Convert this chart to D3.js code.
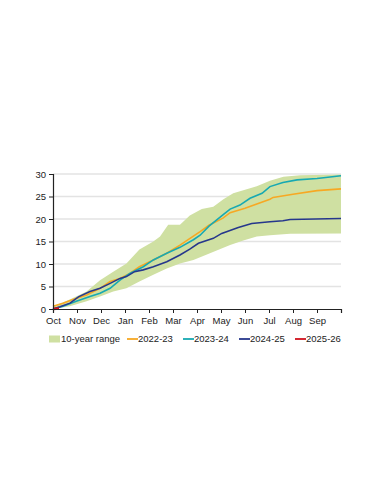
<!DOCTYPE html>
<html>
<head>
<meta charset="utf-8">
<script src="https://cdn.jsdelivr.net/npm/d3@7"></script>
<style>
  body { margin: 0; background: #fff; }
  svg text { font-family: "Liberation Sans", Arial, sans-serif; fill: #222; }
</style>
</head>
<body>
<div id="chart"></div>
<script>
// months since 1 Oct -> cumulative value
const monthLabels = ["Oct", "Nov", "Dec", "Jan", "Feb", "Mar", "Apr", "May", "Jun", "Jul", "Aug", "Sep"];
const yTicks = [0, 5, 10, 15, 20, 25, 30];

const bandUpper = [[0, 0.6], [0.7, 2.1], [1.4, 3.9], [1.96, 6.4], [2.51, 8.3], [3.06, 10.1], [3.6, 13.2],
  [4.18, 15.0], [4.46, 16.1], [4.8, 18.7], [5.29, 18.7], [5.7, 20.8], [6.2, 22.2], [6.68, 22.7],
  [7.1, 24.4], [7.51, 25.7], [7.93, 26.4], [8.49, 27.3], [9.04, 28.5], [9.6, 29.4], [10.29, 29.7], [12, 29.9]];
const bandLower = [[0, 0], [0.7, 0.6], [1.4, 1.7], [1.96, 2.8], [2.51, 3.9], [3.06, 4.6], [3.6, 6.1],
  [4.18, 7.6], [4.74, 9.0], [5.29, 10.1], [5.85, 10.9], [6.54, 12.4], [7.38, 14.2], [7.93, 15.2],
  [8.49, 16.1], [9.04, 16.4], [9.88, 16.7], [12, 16.8]];

const s2223 = [[0, 0.6], [0.42, 1.3], [0.83, 2.1], [1.4, 3.1], [1.96, 4.6], [2.38, 6.1], [2.79, 6.8],
  [3.2, 7.9], [3.6, 9.4], [4.18, 10.9], [4.74, 12.4], [5.29, 14.2], [5.85, 16.2], [6.13, 17.2],
  [6.5, 18.6], [7.08, 20.2], [7.38, 21.4], [8, 22.4], [9.04, 24.4], [9.17, 24.8], [10, 25.5], [11, 26.3], [12, 26.7]];
const s2324 = [[0, 0], [0.42, 0.6], [0.97, 1.7], [1.54, 2.8], [1.96, 3.5], [2.38, 4.6], [2.79, 6.4],
  [3.2, 7.9], [3.76, 9.4], [4.18, 10.9], [4.74, 12.4], [5.29, 13.7], [5.85, 15.4], [6.13, 16.4],
  [6.5, 18.4], [7.08, 20.9], [7.38, 22.2], [7.79, 23.1], [8.21, 24.6], [8.71, 25.7], [9.04, 27.2],
  [9.58, 28.1], [10.17, 28.7], [11, 29.0], [12, 29.6]];
const s2425 = [[0, 0], [0.29, 0.5], [0.71, 1.3], [1.06, 2.7], [1.54, 3.9], [1.96, 4.6], [2.38, 5.7],
  [2.79, 6.8], [3.06, 7.2], [3.4, 8.3], [3.76, 8.7], [4.18, 9.4], [4.74, 10.5], [5.29, 12.0],
  [5.7, 13.3], [6.06, 14.6], [6.68, 15.7], [7.03, 16.8], [7.72, 18.1], [8.28, 19.0], [9.04, 19.4],
  [9.58, 19.6], [9.88, 19.9], [12, 20.1]];
const s2526 = [[0, 0], [0.25, 0.1]];

const seriesNames = ["2022-23", "2023-24", "2024-25", "2025-26"];
const seriesData = [s2223, s2324, s2425, s2526];
const seriesColors = ["#f7a823", "#17a9b2", "#26378c", "#d0101b"];
const bandColor = "#cfe0a2";

const W = 386, H = 500;
const margin = { left: 53, right: 45, top: 174, bottom: 191 };

const svg = d3.select("#chart").append("svg")
  .attr("width", W).attr("height", H);

const x = d3.scaleLinear().domain([0, 12]).range([margin.left, W - margin.right]);
const y = d3.scaleLinear().domain([0, 30]).range([H - margin.bottom, margin.top]);

// gridlines
svg.append("g").selectAll("line").data(yTicks.slice(1)).join("line")
  .attr("x1", x(0)).attr("x2", x(12))
  .attr("y1", d => y(d)).attr("y2", d => y(d))
  .attr("stroke", "#e3e3e3").attr("stroke-width", 1.5);

// band
const bandPoly = bandUpper.concat(bandLower.slice().reverse());
svg.append("path")
  .attr("d", d3.line().x(d => x(d[0])).y(d => y(d[1]))(bandPoly) + "Z")
  .attr("fill", bandColor);

// lines
seriesData.forEach((s, i) => {
  svg.append("path")
    .datum(s)
    .attr("d", d3.line().x(d => x(d[0])).y(d => y(d[1])))
    .attr("fill", "none")
    .attr("stroke", seriesColors[i])
    .attr("stroke-width", i === 3 ? 2.5 : 1.6);
});

// y axis
const yAxis = svg.append("g")
  .attr("transform", `translate(${x(0)},0)`)
  .call(d3.axisLeft(y).tickValues(yTicks).tickSize(4).tickPadding(3));
yAxis.select(".domain").attr("stroke", "#222").attr("stroke-width", 1.2);
yAxis.selectAll("line").attr("stroke", "#222");
yAxis.selectAll("text").style("font-size", "9.5px");

// x axis
const xAxis = svg.append("g")
  .attr("transform", `translate(0,${y(0)})`)
  .call(d3.axisBottom(x).tickValues(d3.range(0, 13)).tickSize(4).tickPadding(4)
    .tickFormat(d => monthLabels[d] || ""));
xAxis.select(".domain").attr("stroke", "#222").attr("stroke-width", 1.2);
xAxis.selectAll("line").attr("stroke", "#222");
xAxis.selectAll("text").style("font-size", "9.5px");

// legend
const legendY = 339;
const legend = svg.append("g");
legend.append("rect")
  .attr("x", 49).attr("y", legendY - 3.5).attr("width", 11).attr("height", 7)
  .attr("fill", bandColor);
legend.append("text")
  .attr("x", 61).attr("y", legendY).attr("dy", "0.35em")
  .style("font-size", "9.5px").text("10-year range");
const legendX = [127, 183, 239, 295];
seriesNames.forEach((n, i) => {
  legend.append("line")
    .attr("x1", legendX[i]).attr("x2", legendX[i] + 11)
    .attr("y1", legendY).attr("y2", legendY)
    .attr("stroke", seriesColors[i]).attr("stroke-width", 1.8);
  legend.append("text")
    .attr("x", legendX[i] + 11).attr("y", legendY).attr("dy", "0.35em")
    .style("font-size", "9.5px").text(n);
});
</script>
</body>
</html>
